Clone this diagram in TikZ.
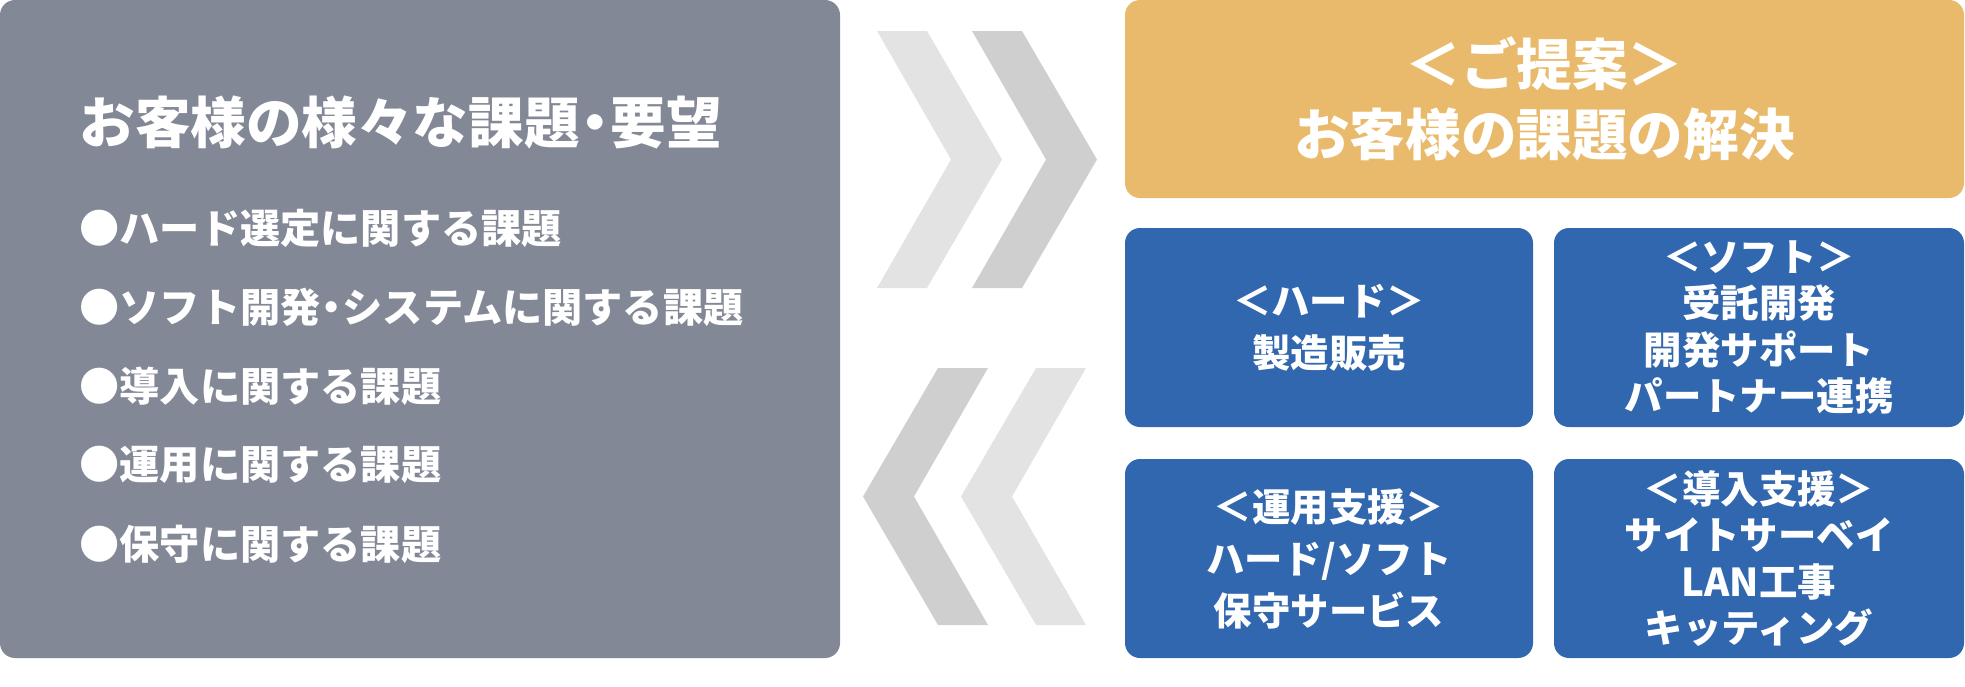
\documentclass[tikz,border=0pt]{standalone}
\usepackage{fontspec}
\setmainfont{Noto Sans CJK JP}
\usepackage{tikz}
\definecolor{issuegray}{HTML}{838896}
\definecolor{propgold}{HTML}{E9BA6C}
\definecolor{servblue}{HTML}{3167AE}
\definecolor{chevlight}{HTML}{E3E3E3}
\definecolor{chevdark}{HTML}{CFCFCF}
\newcommand{\nakaguro}{\makebox[0.55em]{・}}

\begin{document}
\begin{tikzpicture}[x=0.5pt, y=-0.5pt,
  panel/.style={rounded corners=7.5pt, inner sep=0pt, text=white, align=center},
  servbox/.style={panel, fill=servblue, minimum height=99.5pt, font=\bfseries\fontsize{19.2}{26}\selectfont},
  issue/.style={anchor=west, inner sep=0pt, text=white, font=\bfseries\fontsize{20.1}{24}\selectfont}]
\useasboundingbox (0,0) rectangle (1965,686);
%\draw[very thin,color=gray] (0,0) grid[step=100] (1965,686);

% left panel
\node[panel, fill=issuegray, minimum width=420pt, minimum height=329pt] (issues) at (420,329) {};
\node[issue, font=\bfseries\fontsize{27.8}{32}\selectfont] (title) at (79,123) {お客様の様々な課題\nakaguro 要望};
\foreach \t [count=\i from 0] in {ハード選定に関する課題, ソフト開発\nakaguro システムに関する課題, 導入に関する課題, 運用に関する課題, 保守に関する課題}
  \node[issue] (item\i) at (79,228+79*\i) {●\t};

% chevrons
\foreach \xb/\d/\yt/\c in {877/1/31/chevlight, 972/1/31/chevdark, 988/-1/368/chevdark, 1086/-1/368/chevlight}
  \fill[\c] (\xb,\yt) -- ({\xb+50*\d},\yt) -- ({\xb+125*\d},\yt+128.5) -- ({\xb+50*\d},\yt+257)
    -- (\xb,\yt+257) -- ({\xb+74*\d},\yt+128.5) -- cycle;

% right panels
\node[panel, fill=propgold, minimum width=419.5pt, minimum height=99pt,
  font=\bfseries\fontsize{27.8}{35}\selectfont] (proposal) at (1544.5,99) {＜ご提案＞\\お客様の課題の解決};
\node[servbox, minimum width=204pt] (hard) at (1329,327.5) {＜ハード＞\\製造販売};
\node[servbox, minimum width=205pt, font=\bfseries\fontsize{19.2}{23.2}\selectfont] (soft) at (1759,327.5) {＜ソフト＞\\受託開発\\開発サポート\\パートナー連携};
\node[servbox, minimum width=204pt] (ops) at (1329,558.5) {＜運用支援＞\\ハード/ソフト\\保守サービス};
\node[servbox, minimum width=205pt, font=\bfseries\fontsize{19.2}{23.2}\selectfont] (intro) at (1759,558.5) {＜導入支援＞\\サイトサーベイ\\LAN工事\\キッティング};
\end{tikzpicture}
\end{document}
